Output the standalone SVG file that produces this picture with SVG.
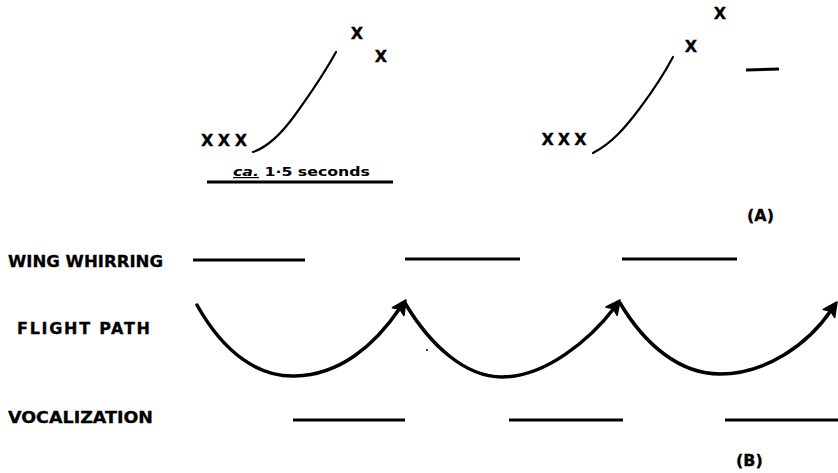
<svg xmlns="http://www.w3.org/2000/svg" xmlns:xlink="http://www.w3.org/1999/xlink" width="838" height="473" viewBox="0 0 838 473">
<style>
.lbl{font-family:"DejaVu Sans","Liberation Sans",Arial,sans-serif;font-weight:bold;font-size:16px;fill:#000;stroke:#000;stroke-width:0.3}
.x{font-family:"DejaVu Sans","Liberation Sans",Arial,sans-serif;font-weight:bold;font-size:16px;fill:#000;text-anchor:middle;stroke:#000;stroke-width:0.3}
.ln{stroke:#000;stroke-width:3;fill:none;stroke-linecap:butt}
.cv{stroke:#000;stroke-width:2.2;fill:none;stroke-linecap:round}
.arc{stroke:#000;stroke-width:3.5;fill:none;stroke-linecap:round}
.head{fill:#000;stroke:#000;stroke-width:1.5;stroke-linejoin:round}
</style>
<defs>
<path id="ah" class="head" d="M0,0 L-14,-7 L-11,0 L-14,7 Z"/>
</defs>
<rect width="838" height="473" fill="#fff"/>
<g id="panelA">
<g id="trace1">
<text class="x" x="224" y="146" textLength="46" lengthAdjust="spacing">XXX</text>
<path class="cv" d="M253,152 C268,147 282,133 295,115 S325,72 336,52"/>
<text class="x" x="357" y="39">X</text>
<text class="x" x="381" y="62">X</text>
</g>
<g id="trace2">
<text class="x" x="564" y="145" textLength="45" lengthAdjust="spacing">XXX</text>
<path class="cv" d="M593,153 C612,143 625,128 640,108 S665,72 673,57"/>
<text class="x" x="691" y="52">X</text>
<text class="x" x="720" y="19">X</text>
<line class="ln" x1="746" y1="70" x2="779" y2="69" stroke-width="2"/>
</g>
<g id="scale">
<line class="ln" x1="207" y1="182" x2="393" y2="182" stroke-width="2.5"/>
<text x="233" y="176" style="font-family:'DejaVu Sans','Liberation Sans',Arial,sans-serif;font-weight:bold;font-size:12px" textLength="137" lengthAdjust="spacingAndGlyphs"><tspan font-style="italic" text-decoration="underline">ca.</tspan> 1·5 seconds</text>
</g>
<text id="labelA" class="lbl" x="747" y="221" font-size="14">(A)</text>
</g>
<g id="labels">
<text id="wing" class="lbl" x="8" y="267" textLength="155" lengthAdjust="spacingAndGlyphs">WING WHIRRING</text>
<text id="flight" class="lbl" x="17" y="334" textLength="133" lengthAdjust="spacing">FLIGHT PATH</text>
<text id="vocal" class="lbl" x="8" y="423" textLength="145" lengthAdjust="spacingAndGlyphs">VOCALIZATION</text>
<text id="labelB" class="lbl" x="736" y="466" font-size="14">(B)</text>
</g>
<g id="connectors">
<line class="ln" x1="193" y1="260" x2="305" y2="260"/>
<line class="ln" x1="405" y1="259" x2="520" y2="259"/>
<line class="ln" x1="622" y1="259" x2="737" y2="259"/>
<path class="arc" d="M197,305 C225,355 260,377 295,376 C340,375 375,345 400,308"/>
<use xlink:href="#ah" href="#ah" transform="translate(406,300) rotate(-56)"/>
<path class="arc" d="M405,303 C430,345 465,377 502,377 C545,377 590,340 615,307"/>
<use xlink:href="#ah" href="#ah" transform="translate(620,300) rotate(-53)"/>
<path class="arc" d="M620,303 C645,345 680,374 720,374 C765,374 808,345 832,309"/>
<use xlink:href="#ah" href="#ah" transform="translate(837,302) rotate(-55)"/>
<circle cx="427" cy="350" r="1" fill="#000"/>
<line class="ln" x1="293" y1="420" x2="405" y2="420"/>
<line class="ln" x1="509" y1="420" x2="623" y2="420"/>
<line class="ln" x1="725" y1="420" x2="838" y2="420"/>
</g>
</svg>
